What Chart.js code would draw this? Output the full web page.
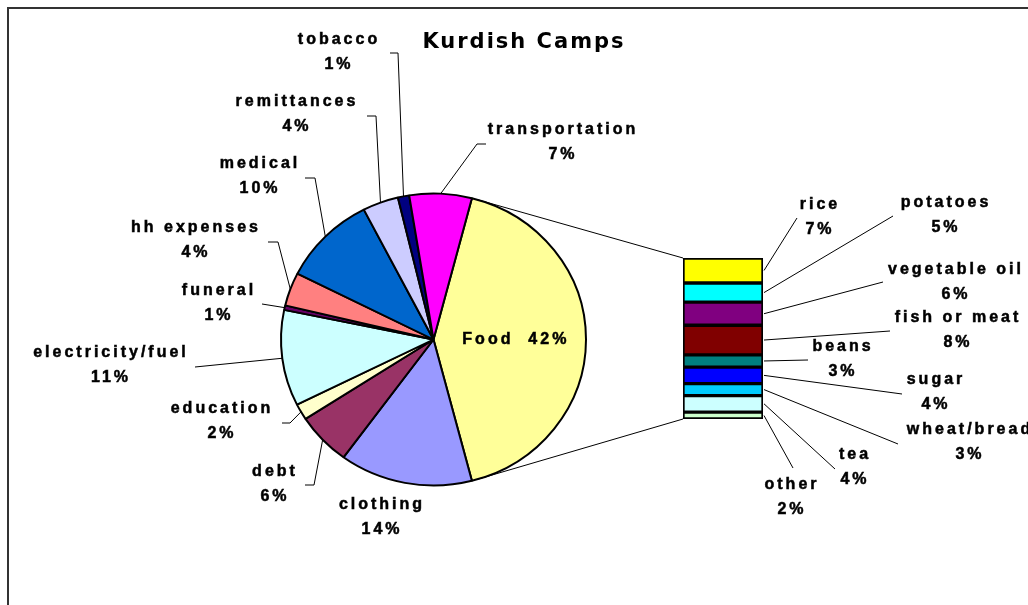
<!DOCTYPE html>
<html>
<head>
<meta charset="utf-8">
<script src="https://cdn.jsdelivr.net/npm/chart.js@4.4.0/dist/chart.umd.min.js"></script>
<style>
  html, body { margin: 0; padding: 0; background: #fff; overflow: hidden; }
  #wrap { position: relative; width: 1028px; height: 605px; overflow: hidden; }
  #wrap canvas { position: absolute; left: 0; top: 0; }
  #frame { position: absolute; left: 7px; top: 7px; width: 1200px; height: 800px; border: 2px solid #333; }
</style>
</head>
<body>
<div id="wrap">
  <div id="frame"></div>
  <canvas id="pieChart" width="1028" height="605"></canvas>
  <canvas id="barChart" width="1028" height="605"></canvas>
</div>
<script>
// ---- data ----
const pieLabels = ["Food", "clothing", "debt", "education", "electricity/fuel", "funeral",
                   "hh expenses", "medical", "remittances", "tobacco", "transportation"];
const pieValues = [41.9, 14.1, 5.8, 1.8, 10.6, 0.5, 3.7, 10.0, 3.8, 1.2, 6.6];
const pieColors = ["#FFFF99", "#9999FF", "#993366", "#FFFFCC", "#CCFFFF", "#660066",
                   "#FF8080", "#0066CC", "#CCCCFF", "#000080", "#FF00FF"];

const foodLabels = ["rice", "potatoes", "vegetable oil", "fish or meat", "beans",
                    "sugar", "wheat/bread", "tea", "other"];
const foodValues = [6.5, 5.0, 6.0, 7.7, 3.2, 4.3, 3.1, 4.3, 1.8];
const foodColors = ["#FFFF00", "#00FFFF", "#800080", "#800000", "#008080",
                    "#0000FF", "#00CCFF", "#CCFFFF", "#CCFFCC"];

// ---- label layout (text centre of first line, leader points from the label side) ----
const pieLabelPos = [
    null,
    { x: 382, y: 505, lead: null },
    { x: 275, y: 472, lead: [[305, 485], [314, 485]] },
    { x: 222, y: 409, lead: [[282, 423], [290, 423]] },
    { x: 111, y: 353, lead: [[195, 367]] },
    { x: 219, y: 291, lead: [[262, 304]] },
    { x: 196, y: 228, lead: [[268, 242], [278, 242]] },
    { x: 260, y: 164, lead: [[305, 178], [315, 178]] },
    { x: 297, y: 102, lead: [[367, 116], [376, 116]] },
    { x: 339, y: 40,  lead: [[390, 53], [398, 53]] },
    { x: 563, y: 130, lead: [[486, 144], [477, 144]] }
];
const foodLabelPos = [
    { x: 820, y: 205, end: [797, 218] },
    { x: 946, y: 203, end: [893, 216] },
    { x: 956, y: 270, end: [883, 282] },
    { x: 958, y: 318, end: [890, 331] },
    { x: 843, y: 347, end: [808, 360] },
    { x: 936, y: 380, end: [902, 394] },
    { x: 970, y: 430, end: [898, 444] },
    { x: 855, y: 455, end: [835, 469] },
    { x: 792, y: 485, end: [793, 468] }
];

const squash = 146 / 152.5;   // pie is drawn slightly flattened, as in the original
const labelFont = 'bold 16px "Liberation Sans", Arial, sans-serif';
const spacing = '3px';

const pieTotal = pieValues.reduce((a, b) => a + b, 0);
const pct = v => Math.round(v / pieTotal * 100) + "%";

// heavy text, a touch bolder than the plain bold face
function heavyText(ctx, text, x, y) {
    ctx.fillText(text, x, y);
    ctx.strokeText(text, x, y);
}

function twoLines(ctx, text, value, x, y) {
    heavyText(ctx, text, x, y);
    heavyText(ctx, pct(value), x, y + 25);
}

// point on the (flattened) rim of the pie at a given angle
function rimPoint(arc, angle) {
    return [arc.x + arc.outerRadius * Math.cos(angle),
            arc.y + arc.outerRadius * Math.sin(angle) * squash];
}

function setLabelStyle(ctx) {
    ctx.fillStyle = "#000";
    ctx.font = labelFont;
    ctx.letterSpacing = spacing;
    ctx.textAlign = "center";
    ctx.textBaseline = "middle";
}

let pieChart;

/* ---------------- PIE ---------------- */

const flattenPie = {
    id: "flattenPie",
    beforeDatasetsDraw(chart) {
        const arc = chart.getDatasetMeta(0).data[0];
        const ctx = chart.ctx;
        ctx.save();
        ctx.translate(arc.x, arc.y);
        ctx.scale(1, squash);
        ctx.translate(-arc.x, -arc.y);
    },
    afterDatasetsDraw(chart) {
        chart.ctx.restore();
    }
};

const pieText = {
    id: "pieText",
    afterDraw(chart) {
        const ctx = chart.ctx;
        const arcs = chart.getDatasetMeta(0).data;

        ctx.save();
        ctx.fillStyle = "#000";
        ctx.textAlign = "center";
        ctx.textBaseline = "alphabetic";
        ctx.font = 'bold 21px "DejaVu Sans", Verdana, sans-serif';
        ctx.letterSpacing = "2px";
        ctx.fillText("Kurdish Camps", 524, 48);

        // leader lines
        ctx.strokeStyle = "#000";
        ctx.lineWidth = 1;
        for (let i = 1; i < arcs.length; i++) {
            const pos = pieLabelPos[i];
            if (!pos.lead) continue;
            const a = arcs[i];
            const rim = rimPoint(a, (a.startAngle + a.endAngle) / 2);
            ctx.beginPath();
            ctx.moveTo(pos.lead[0][0], pos.lead[0][1]);
            pos.lead.slice(1).forEach(p => ctx.lineTo(p[0], p[1]));
            ctx.lineTo(rim[0], rim[1]);
            ctx.stroke();
        }

        setLabelStyle(ctx);
        ctx.lineWidth = 0.5;

        // food label inside its slice
        const food = arcs[0];
        const mid0 = (food.startAngle + food.endAngle) / 2;
        heavyText(ctx, "Food  " + pct(pieValues[0]),
            food.x + food.outerRadius * 0.54 * Math.cos(mid0),
            food.y + food.outerRadius * 0.54 * Math.sin(mid0) * squash);

        for (let i = 1; i < arcs.length; i++) {
            const pos = pieLabelPos[i];
            twoLines(ctx, pieLabels[i], pieValues[i], pos.x, pos.y);
        }
        ctx.restore();
    }
};

pieChart = new Chart(document.getElementById("pieChart"), {
    type: "pie",
    data: {
        labels: pieLabels,
        datasets: [{
            data: pieValues,
            backgroundColor: pieColors,
            borderColor: "#000",
            borderWidth: 2
        }]
    },
    options: {
        responsive: false,
        animation: false,
        rotation: 90 - pieValues[0] / pieTotal * 180,
        layout: { padding: { left: 280, right: 441, top: 186, bottom: 112 } },
        plugins: { legend: { display: false }, tooltip: { enabled: false } }
    },
    plugins: [flattenPie, pieText]
});

/* ---------------- FOOD BAR ---------------- */

const barText = {
    id: "barText",
    afterDraw(chart) {
        const ctx = chart.ctx;
        ctx.save();
        ctx.strokeStyle = "#000";
        ctx.lineWidth = 1;

        // connector lines from the bar's left corners, tangent to the food slice
        const arc = pieChart.getDatasetMeta(0).data[0];
        const top = chart.getDatasetMeta(0).data[0];
        const bottom = chart.getDatasetMeta(foodValues.length - 1).data[0];
        const left = top.x - top.width / 2;
        const corners = [[Math.min(top.y, top.base), -1], [Math.max(bottom.y, bottom.base), 1]];
        corners.forEach(([py, side]) => {
            const dx = left - arc.x;
            const dy = (py - arc.y) / squash;
            const d = Math.hypot(dx, dy);
            const phi = Math.atan2(dy, dx) + side * Math.acos(arc.outerRadius / d);
            const rim = rimPoint(arc, phi);
            ctx.beginPath();
            ctx.moveTo(left, py);
            ctx.lineTo(rim[0], rim[1]);
            ctx.stroke();
        });

        // leader lines from each segment
        foodLabels.forEach((name, i) => {
            const bar = chart.getDatasetMeta(i).data[0];
            const pos = foodLabelPos[i];
            ctx.beginPath();
            ctx.moveTo(bar.x + bar.width / 2 + 1, (bar.y + bar.base) / 2);
            ctx.lineTo(pos.end[0], pos.end[1]);
            ctx.stroke();
        });

        setLabelStyle(ctx);
        ctx.lineWidth = 0.5;
        foodLabels.forEach((name, i) => {
            const pos = foodLabelPos[i];
            twoLines(ctx, name, foodValues[i], pos.x, pos.y);
        });
        ctx.restore();
    }
};

new Chart(document.getElementById("barChart"), {
    type: "bar",
    data: {
        labels: ["Food"],
        datasets: foodLabels.map((name, i) => ({
            label: name,
            data: [foodValues[i]],
            backgroundColor: foodColors[i],
            borderColor: "#000",
            borderWidth: 2,
            borderSkipped: false,
            categoryPercentage: 1,
            barPercentage: 1
        }))
    },
    options: {
        responsive: false,
        animation: false,
        layout: { padding: { left: 683, right: 265, top: 258, bottom: 186 } },
        scales: {
            x: { stacked: true, display: false },
            y: {
                stacked: true,
                display: false,
                reverse: true,
                min: 0,
                max: foodValues.reduce((a, b) => a + b, 0)
            }
        },
        plugins: { legend: { display: false }, tooltip: { enabled: false } }
    },
    plugins: [barText]
});
</script>
</body>
</html>
